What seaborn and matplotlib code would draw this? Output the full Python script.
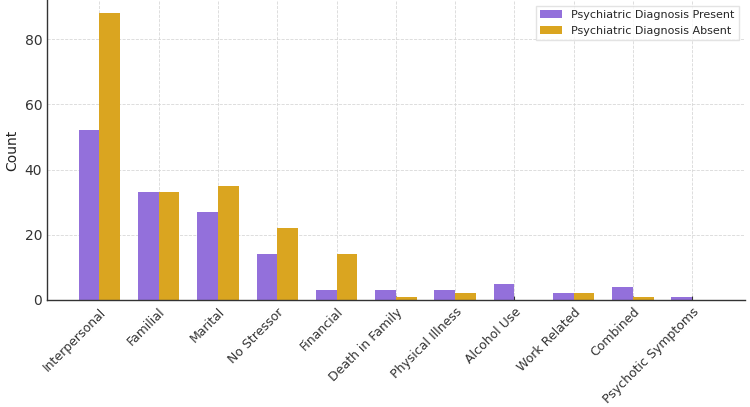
import numpy as np
import pandas as pd
import matplotlib
matplotlib.use("Agg")
import matplotlib.pyplot as plt
import seaborn as sns

categories = ["Interpersonal", "Familial", "Marital", "No Stressor", "Financial",
              "Death in Family", "Physical Illness", "Alcohol Use", "Work Related",
              "Combined", "Psychotic Symptoms"]
present = [52, 33, 27, 14, 3, 3, 3, 5, 2, 4, 1]
absent = [88, 33, 35, 22, 14, 1, 2, 0, 2, 1, 0]
series = ["Psychiatric Diagnosis Present", "Psychiatric Diagnosis Absent"]

df = pd.DataFrame({
    "Stressor": categories * 2,
    "Count": present + absent,
    "Group": [series[0]] * len(categories) + [series[1]] * len(categories),
})

sns.set_style("whitegrid")
plt.rcParams['font.family'] = ['DejaVu Sans']

fig = plt.figure(figsize=(7.5, 4.07), dpi=100)
ax = fig.add_axes([0.0627, 0.263, 0.930, 0.737])

sns.barplot(data=df, x="Stressor", y="Count", hue="Group", order=categories,
            hue_order=series, palette=["#9370DB", "#DAA520"], width=0.7,
            saturation=1, linewidth=0, ax=ax)

ax.set_xlim(-0.885, len(categories) - 1 + 0.885)
ax.set_ylim(0, 92)
ax.set_yticks([0, 20, 40, 60, 80])
ax.set_xlabel("")
ax.set_ylabel("Count", fontsize=10, color="#222222")
ax.set_xticks(range(len(categories)))
ax.set_xticklabels(categories, rotation=45, ha="right", rotation_mode="anchor",
                   fontsize=9, color="#333333")
ax.tick_params(axis="y", labelsize=10, labelcolor="#333333", length=0)
ax.tick_params(axis="x", direction="in", length=3, color="#333333", bottom=True, pad=4)

ax.grid(True, linestyle="--", linewidth=0.6, color="#d8d8d8")
ax.set_axisbelow(True)
for s in ["top", "right"]:
    ax.spines[s].set_visible(False)
for s in ["left", "bottom"]:
    ax.spines[s].set_color("#333333")
    ax.spines[s].set_linewidth(1.0)

ax.legend(loc="upper right", fontsize=8, frameon=True, edgecolor="#dddddd",
          fancybox=False, borderpad=0.4)

fig.savefig("out.png", dpi=100)
